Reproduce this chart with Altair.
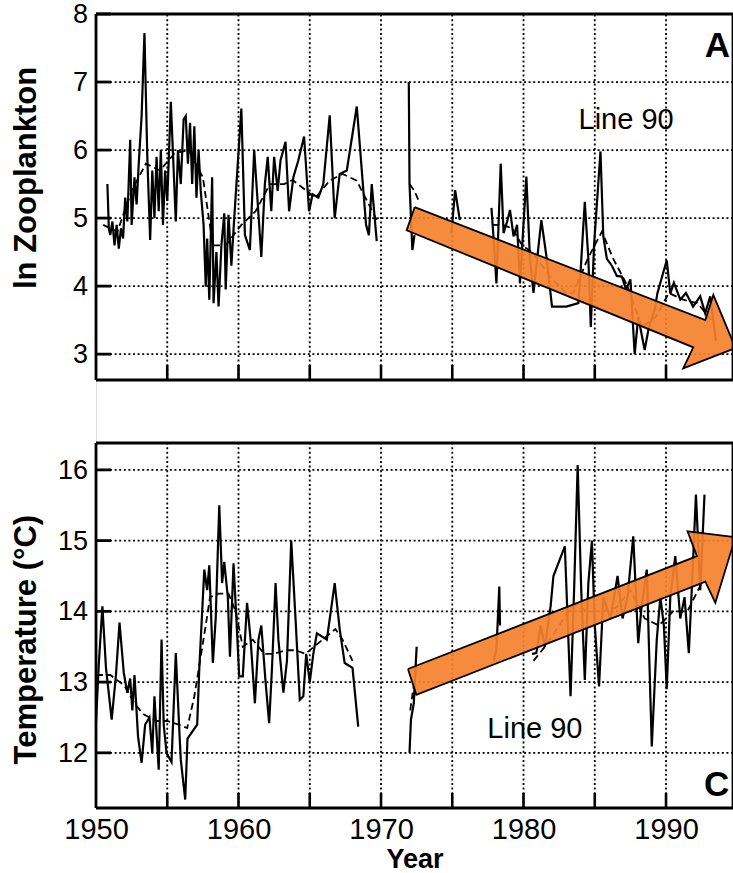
import altair as alt
import pandas as pd

# ---------------- data ----------------
# Panel A: ln Zooplankton, CalCOFI Line 90 -- solid (cruise values), split in segments
zooA_year = [1950.8, 1950.9, 1951.0, 1951.15, 1951.3, 1951.45, 1951.6, 1951.75, 1951.9, 1952.05,
             1952.2, 1952.4, 1952.5, 1952.7, 1952.85, 1953.0, 1953.2, 1953.4, 1953.6, 1953.8,
             1953.95, 1954.1, 1954.25, 1954.4, 1954.55, 1954.7, 1954.85, 1955.0, 1955.25, 1955.6,
             1955.75, 1955.95, 1956.15, 1956.3, 1956.45, 1956.6, 1956.75, 1956.9, 1957.05, 1957.2,
             1957.35, 1957.55, 1957.7, 1957.8, 1957.95, 1958.15, 1958.25, 1958.45, 1958.6, 1958.8,
             1959.0, 1959.1, 1959.3, 1959.5, 1959.7, 1960.2, 1960.45, 1960.8, 1961.1, 1961.6,
             1961.85, 1962.05, 1962.3, 1962.5, 1962.75, 1962.95, 1963.3, 1963.55, 1963.85, 1964.2,
             1964.6, 1964.95, 1965.2, 1965.6, 1965.95, 1966.4, 1966.75, 1967.1, 1967.6, 1968.3,
             1968.95, 1969.15, 1969.35, 1969.7]
zooA_val = [5.5, 4.85, 4.75, 4.95, 4.6, 4.9, 4.55, 4.85, 4.7, 5.3,
            4.95, 6.15, 4.9, 5.6, 5.2, 5.8, 6.5, 7.72, 5.9, 4.68,
            5.7, 5.0, 5.9, 5.1, 6.0, 4.9, 5.7, 5.25, 6.71, 4.95,
            6.0, 5.5, 6.45, 6.5, 5.8, 6.4, 5.5, 6.35, 5.3, 6.0,
            5.4, 4.9, 3.99, 4.7, 3.8, 5.6, 3.75, 4.5, 3.7, 4.6,
            5.07, 3.95, 5.05, 4.3, 5.0, 6.61, 4.75, 4.53, 6.0, 4.43,
            5.5, 5.9, 5.1, 5.9, 5.4, 5.85, 6.12, 5.1, 5.6, 5.85,
            6.2, 5.1, 5.35, 5.3, 5.5, 6.51, 5.0, 5.65, 5.7, 6.64,
            4.9, 4.75, 5.5, 4.66]
zooB_year = [1971.95, 1972.0, 1972.2, 1972.35]
zooB_val = [7.0, 5.5, 4.53, 4.75]
zooC_year = [1974.94, 1975.2, 1975.53]
zooC_val = [4.78, 5.41, 4.97]
zooD_year = [1977.75, 1977.9, 1978.1, 1978.4, 1978.6, 1978.85, 1979.05, 1979.3, 1979.55, 1979.75,
             1980.2, 1980.45, 1980.7, 1981.25, 1981.6, 1982.0, 1983.0, 1983.85, 1984.0, 1984.3,
             1984.55, 1984.72, 1984.95, 1985.4, 1985.6, 1985.85, 1986.2, 1986.55, 1986.9, 1987.2,
             1987.5, 1987.8, 1988.05, 1988.5, 1988.8, 1989.2, 1989.4, 1990.05, 1990.3, 1990.55,
             1991.0, 1991.4, 1991.9, 1992.4, 1992.75, 1993.1, 1993.5]
zooD_val = [5.15, 4.7, 4.04, 5.8, 4.78, 4.95, 5.12, 4.73, 4.9, 4.04,
            5.61, 4.4, 3.9, 4.97, 4.45, 3.7, 3.7, 3.75, 4.2, 5.24,
            4.4, 3.4, 4.6, 5.98, 4.73, 4.4, 4.3, 4.15, 4.14, 3.95,
            4.1, 3.0, 3.55, 3.06, 3.4, 3.65, 3.9, 4.38, 3.89, 4.05,
            3.8, 3.9, 3.7, 3.85, 3.6, 3.85, 3.2]
# Panel A: smoothed (dashed) series
zooA_s_year = [1950.5, 1951.5, 1952.5, 1953.5, 1954.5, 1955.5, 1956.5, 1957.5, 1958.2, 1959.1,
               1960.2, 1961.2, 1962.2, 1963.2, 1963.8, 1965.4, 1966.4, 1967.3, 1968.3, 1969.7]
zooA_s_val = [4.9, 4.8, 5.4, 5.8, 5.7, 5.95, 6.0, 5.6, 4.6, 4.6,
              4.9, 5.1, 5.5, 5.5, 5.56, 5.3, 5.55, 5.65, 5.55, 4.97]
zooB_s_year = [1972.0, 1972.35, 1972.65]
zooB_s_val = [5.5, 5.4, 5.25]
zooD_s_year = [1977.8, 1978.5, 1979.2, 1979.9, 1980.6, 1981.3, 1982.0, 1983.0, 1983.5, 1984.5,
               1985.5, 1986.3, 1987.3, 1988.3, 1989.3, 1990.2, 1991.2, 1992.2, 1993.2]
zooD_s_val = [4.9, 4.9, 4.85, 4.6, 4.5, 4.3, 4.1, 3.9, 3.9, 4.4,
              4.8, 4.4, 4.0, 3.4, 3.55, 3.9, 3.8, 3.75, 3.5]

# Panel C: Temperature (deg C), Line 90 -- solid
tmpA_year = [1950.0, 1950.2, 1950.45, 1950.7, 1951.1, 1951.4, 1951.65, 1951.95, 1952.2, 1952.4,
             1952.55, 1952.7, 1952.95, 1953.2, 1953.45, 1953.75, 1953.95, 1954.1, 1954.4, 1954.6,
             1954.75, 1954.95, 1955.3, 1955.6, 1955.85, 1955.95, 1956.26, 1956.42, 1957.1, 1957.25,
             1957.6, 1957.8, 1957.95, 1958.2, 1958.4, 1958.65, 1958.85, 1959.0, 1959.25, 1959.4,
             1959.65, 1959.85, 1960.05, 1960.3, 1960.6, 1960.85, 1961.15, 1961.4, 1961.6, 1961.9,
             1962.15, 1962.35, 1962.6, 1962.8, 1963.15, 1963.4, 1963.7, 1964.0, 1964.3, 1964.55,
             1964.75, 1965.0, 1965.25, 1965.5, 1966.2, 1966.75, 1967.1, 1967.45, 1968.0, 1968.4]
tmpA_val = [12.43, 13.27, 14.07, 13.2, 12.47, 13.1, 13.84, 13.13, 12.85, 13.05,
            12.6, 13.1, 12.23, 11.86, 12.4, 12.5, 12.0, 12.8, 11.76, 13.6,
            12.4, 12.0, 11.87, 13.41, 12.3, 11.9, 11.34, 12.2, 12.4, 13.2,
            14.59, 14.3, 14.65, 13.27, 13.9, 15.5, 14.4, 14.7, 14.2, 13.36,
            14.68, 13.9, 13.08, 13.08, 14.12, 13.6, 12.7, 13.6, 13.8, 13.0,
            12.42, 13.2, 14.4, 13.6, 12.85, 13.3, 15.0, 13.9, 12.75, 12.8,
            13.4, 13.0, 13.4, 13.69, 13.6, 14.4, 13.75, 13.27, 13.2, 12.37]
tmpB_year = [1972.0, 1972.1, 1972.3, 1972.5]
tmpB_val = [12.0, 12.47, 12.7, 13.5]
tmpC_year = [1977.9, 1978.1, 1978.3, 1978.35]
tmpC_val = [13.3, 13.46, 14.35, 13.8]
tmpD_year = [1980.6, 1980.9, 1981.2, 1981.5, 1981.9, 1982.1, 1982.9, 1983.3, 1983.55, 1983.8,
             1984.05, 1984.3, 1984.55, 1984.8, 1985.0, 1985.3, 1985.6, 1986.1, 1986.6, 1986.95,
             1987.3, 1987.7, 1988.05, 1988.3, 1988.65, 1989.0, 1989.35, 1989.6, 1989.85, 1990.05,
             1990.3, 1990.65, 1991.0, 1991.3, 1991.6, 1991.85, 1992.1, 1992.4, 1992.7]
tmpD_val = [13.4, 13.41, 13.8, 13.5, 14.07, 14.5, 14.92, 12.8, 14.3, 16.07,
            14.3, 13.03, 14.4, 15.0, 13.8, 12.94, 14.2, 13.9, 14.5, 13.9,
            14.2, 15.06, 13.55, 14.1, 14.59, 12.09, 13.6, 14.2, 13.8, 12.9,
            14.2, 14.78, 13.9, 14.2, 13.41, 14.5, 15.65, 14.3, 15.65]
# Panel C: smoothed (dashed)
tmpA_s_year = [1950.0, 1951.0, 1952.0, 1952.7, 1953.3, 1954.2, 1955.0, 1955.8, 1956.4, 1956.9,
               1957.3, 1957.7, 1958.0, 1958.6, 1959.3, 1959.8, 1960.3, 1961.0, 1961.8, 1962.5,
               1963.3, 1964.0, 1964.7, 1965.3, 1966.2, 1966.8, 1967.3, 1968.0]
tmpA_s_val = [13.1, 13.1, 12.95, 12.7, 12.55, 12.45, 12.45, 12.4, 12.35, 12.8,
              13.3, 13.8, 14.2, 14.25, 14.25, 14.0, 13.5, 13.6, 13.4, 13.4,
              13.45, 13.45, 13.4, 13.5, 13.65, 13.75, 13.6, 13.3]
tmpB_s_year = [1972.05, 1972.4]
tmpB_s_val = [12.6, 13.1]
tmpC_s_year = [1978.0, 1978.3]
tmpC_s_val = [13.6, 13.7]
tmpD_s_year = [1980.7, 1981.5, 1982.5, 1983.5, 1984.5, 1985.5, 1986.5, 1987.5, 1988.5, 1989.5,
               1990.5, 1991.5, 1992.5]
tmpD_s_val = [13.3, 13.5, 13.8, 14.1, 14.0, 14.0, 14.05, 14.3, 13.9, 13.8,
              14.0, 14.0, 14.4]

# trend arrows (outline vertices, in year / value units)
arrowA_year = [1972.36, 1992.76, 1993.32, 1994.87, 1991.21, 1991.91, 1971.80, 1972.36]
arrowA_val = [5.16, 3.50, 3.87, 3.09, 2.79, 3.10, 4.82, 5.16]
arrowC_year = [1971.89, 1992.17, 1991.51, 1994.87, 1993.46, 1992.76, 1972.48, 1971.89]
arrowC_val = [13.185, 14.78, 15.13, 15.05, 14.12, 14.42, 12.82, 13.185]

x_tick_years = [1955, 1960, 1965, 1970, 1975, 1980, 1985, 1990]
x_label_years = [1950, 1960, 1970, 1980, 1990]
zoo_ticks = [3, 4, 5, 6, 7, 8]
tmp_ticks = [12, 13, 14, 15, 16]

# ---------------- layout constants ----------------
XMIN, XMAX = 1950.0, 1994.70
W, H = 637, 794
TOP_DOM, TOP_RNG = [2.62, 8.0], [366, 0]
BOT_DOM, BOT_RNG = [11.22, 16.38], [794, 429]
TICK_PX = 15
FONT = "Liberation Sans"
ORANGE = "#F6812C"

xsc = alt.Scale(domain=[XMIN, XMAX], nice=False, zero=False)
xaxis = alt.Axis(values=x_label_years, format="d", grid=False, ticks=False, domain=False,
                 labelFontSize=29, labelFont=FONT, labelColor="black", labelPadding=7,
                 labelFlush=False, labelOverlap=False,
                 title="Year", titleFont=FONT, titleFontSize=27, titleFontWeight="bold",
                 titleColor="black", titlePadding=2)


def seg_df(segments):
    rows = []
    for k, (ys, vs) in enumerate(segments):
        for y, v in zip(ys, vs):
            rows.append({"year": y, "val": v, "seg": k})
    return pd.DataFrame(rows)


def panel(solid, dashed, arrow_y, arrow_v, dom, rng, ticks, grid_vals, title, title_xy,
          letter, letter_xy, line90_xy):
    ysc = alt.Scale(domain=dom, range=rng, nice=False, zero=False)
    lo, hi = dom
    yr_per_px = (XMAX - XMIN) / W
    v_per_px = (hi - lo) / abs(rng[0] - rng[1])

    def X(f):
        return alt.X(f, type="quantitative", scale=xsc, axis=xaxis)

    def Y(f):
        return alt.Y(f, type="quantitative", scale=ysc, axis=None)

    dot = dict(color="black", strokeWidth=1.8, strokeDash=[2, 2.6])
    hgrid = alt.Chart(pd.DataFrame({"v": grid_vals})).mark_rule(**dot).encode(y=Y("v"))
    vgrid = alt.Chart(pd.DataFrame({"yr": x_tick_years, "lo": lo, "hi": hi})).mark_rule(**dot).encode(
        x=X("yr"), y=Y("lo"), y2="hi")

    frame_h = alt.Chart(pd.DataFrame({"v": [lo, hi]})).mark_rule(color="black", strokeWidth=2.8).encode(y=Y("v"))
    frame_v = alt.Chart(pd.DataFrame({"yr": [XMIN, XMAX], "lo": lo, "hi": hi})).mark_rule(
        color="black", strokeWidth=2.8).encode(x=X("yr"), y=Y("lo"), y2="hi")

    yt = alt.Chart(pd.DataFrame({"v": ticks, "x0": XMIN, "x1": XMIN + TICK_PX * yr_per_px})).mark_rule(
        color="black", strokeWidth=2.8).encode(x=X("x0"), x2="x1", y=Y("v"))
    xt = alt.Chart(pd.DataFrame({"yr": x_tick_years, "lo": lo, "hi": lo + TICK_PX * v_per_px})).mark_rule(
        color="black", strokeWidth=2.6).encode(x=X("yr"), y=Y("lo"), y2="hi")

    ylab = alt.Chart(pd.DataFrame({"v": ticks, "x": XMIN, "t": [str(t) for t in ticks]})).mark_text(
        align="right", baseline="middle", dx=-8, dy=1, fontSize=27, font=FONT, color="black").encode(
        x=X("x"), y=Y("v"), text="t:N")

    solid_l = alt.Chart(solid).mark_line(color="black", strokeWidth=2.2, strokeJoin="miter").encode(
        x=X("year"), y=Y("val"), detail="seg:N")
    dashed_l = alt.Chart(dashed).mark_line(color="black", strokeWidth=1.8, strokeDash=[7, 4]).encode(
        x=X("year"), y=Y("val"), detail="seg:N")

    arrow = alt.Chart(pd.DataFrame({"year": arrow_y, "val": arrow_v, "i": range(len(arrow_y))})).mark_line(
        fill=ORANGE, fillOpacity=0.92, stroke="black", strokeWidth=1.8, strokeJoin="miter").encode(
        x=X("year"), y=Y("val"), order="i:Q")

    ttl = alt.Chart(pd.DataFrame({"x": [title_xy[0]], "y": [title_xy[1]], "t": [title]})).mark_text(
        angle=270, align="center", baseline="middle", fontSize=31, fontWeight="bold", font=FONT,
        color="black").encode(x=X("x"), y=Y("y"), text="t:N")
    let = alt.Chart(pd.DataFrame({"x": [letter_xy[0]], "y": [letter_xy[1]], "t": [letter]})).mark_text(
        align="center", baseline="middle", fontSize=35, fontWeight="bold", font=FONT,
        color="black").encode(x=X("x"), y=Y("y"), text="t:N")
    l90 = alt.Chart(pd.DataFrame({"x": [line90_xy[0]], "y": [line90_xy[1]], "t": ["Line 90"]})).mark_text(
        align="center", baseline="middle", fontSize=29, font=FONT, color="black").encode(
        x=X("x"), y=Y("y"), text="t:N")

    return alt.layer(hgrid, vgrid, solid_l, dashed_l, arrow, frame_h, frame_v, yt, xt, ylab, ttl, let, l90)


zoo_solid = seg_df([(zooA_year, zooA_val), (zooB_year, zooB_val), (zooC_year, zooC_val), (zooD_year, zooD_val)])
zoo_dash = seg_df([(zooA_s_year, zooA_s_val), (zooB_s_year, zooB_s_val), (zooD_s_year, zooD_s_val)])
tmp_solid = seg_df([(tmpA_year, tmpA_val), (tmpB_year, tmpB_val), (tmpC_year, tmpC_val), (tmpD_year, tmpD_val)])
tmp_dash = seg_df([(tmpA_s_year, tmpA_s_val), (tmpB_s_year, tmpB_s_val), (tmpC_s_year, tmpC_s_val),
                   (tmpD_s_year, tmpD_s_val)])

top = panel(zoo_solid, zoo_dash, arrowA_year, arrowA_val, TOP_DOM, TOP_RNG, zoo_ticks, [3, 4, 5, 6, 7],
            "ln Zooplankton", (1945.15, 5.59), "A", (1993.6, 7.53), (1987.2, 6.44))
bottom = panel(tmp_solid, tmp_dash, arrowC_year, arrowC_val, BOT_DOM, BOT_RNG, tmp_ticks, tmp_ticks,
               "Temperature (°C)", (1945.15, 13.6), "C", (1993.55, 11.55), (1980.8, 12.33))

chart = alt.layer(top, bottom).resolve_scale(y="independent").properties(
    width=W, height=H,
    padding={"left": 96, "top": 14, "right": 0, "bottom": 65},
    autosize=alt.AutoSizeParams(type="none"),
    background="white",
).configure_view(stroke=None).configure(font=FONT)

chart.save("out.html", embed_options={"renderer": "svg", "actions": False})
